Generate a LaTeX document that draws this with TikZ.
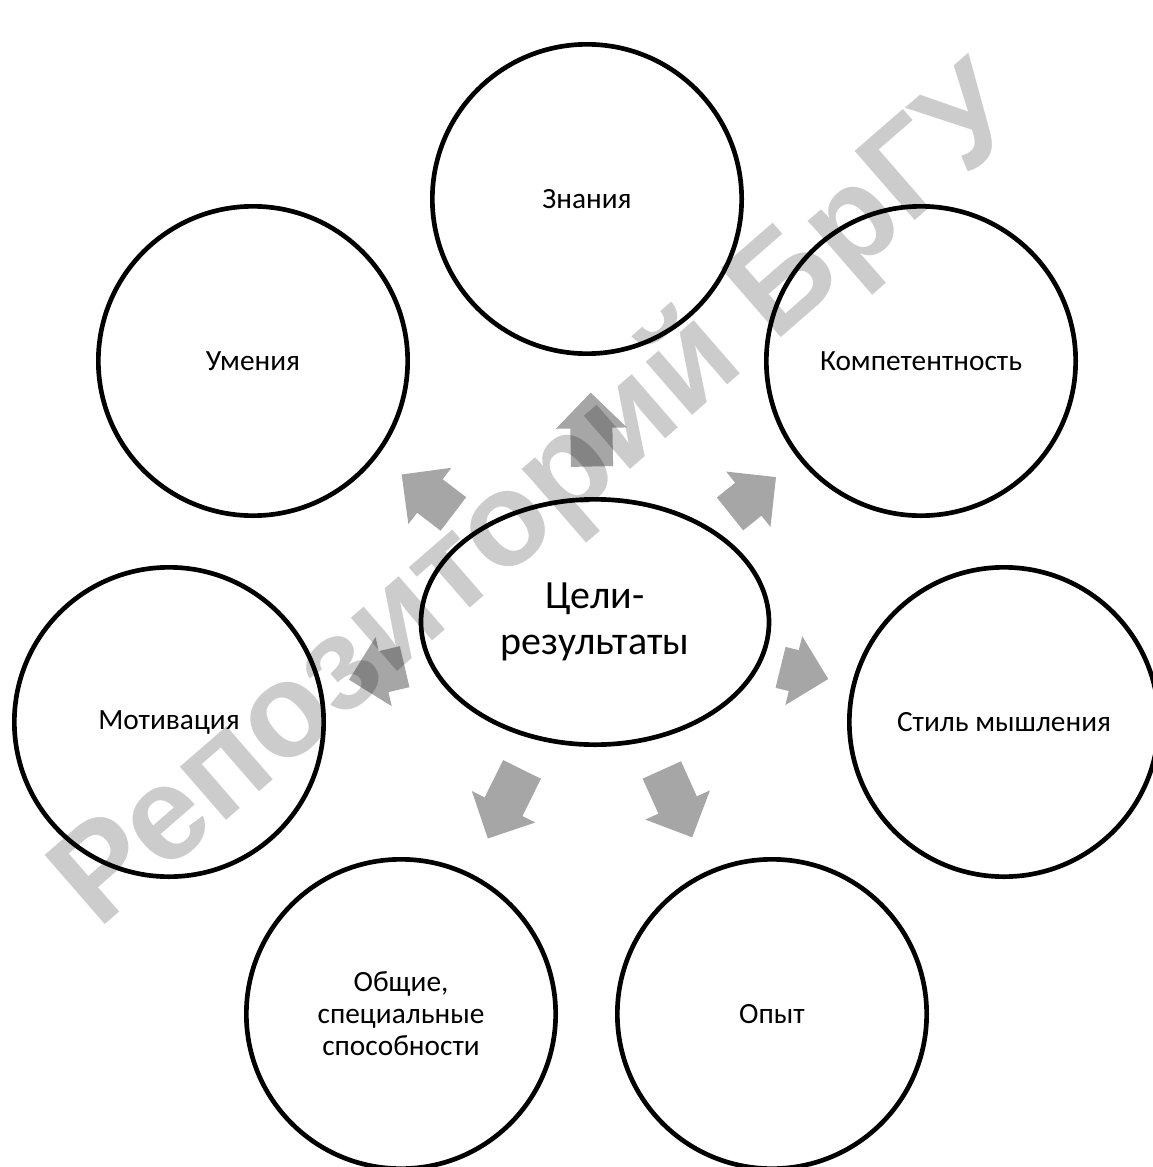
\documentclass[tikz,border=0pt]{standalone}
\usepackage{fontspec}
\setmainfont{Carlito}
\newfontfamily\wmfont{Liberation Sans}
\usepackage{tikz}
\usetikzlibrary{shapes.geometric,shapes.arrows}
\tikzstyle{ring} = [circle, draw, line width=1.75pt, minimum size=116pt, inner sep=0pt, align=center, font=\fontsize{11}{12}\selectfont]
\tikzstyle{goal} = [ellipse, draw, line width=1.75pt, minimum width=130.5pt, minimum height=92pt, inner sep=0pt, align=center, font=\fontsize{15}{17}\selectfont]
\tikzstyle{fatarrow} = [single arrow, fill=arrowgray, draw=none, minimum width=26pt, single arrow head extend=5.4pt, inner xsep=0pt, inner ysep=7.7pt, anchor=tip, sloped, allow upside down]
\tikzstyle{stamp} = [rotate=41, opacity=0.2, text opacity=0.2, font=\wmfont\bfseries\fontsize{50}{50}\selectfont]
\definecolor{arrowgray}{HTML}{A6A6A6}

\begin{document}
\begin{tikzpicture}[x=0.375pt, y=-0.375pt]
  \useasboundingbox (0,0) rectangle (1152,1167);
  \node (goal) at (595,622) [goal] {Цели-\\результаты};
  \node (znan) at (587,199) [ring] {Знания};
  \node (umen) at (253,361) [ring] {Умения};
  \node (komp) at (921,361) [ring] {Компетентность};
  \node (motiv) at (169,722) [ring] {Мотивация};
  \node (stil) at (1004,722) [ring] {Стиль мышления};
  \node (sposob) at (401,1014) [ring] {Общие,\\специальные\\способности};
  \node (opyt) at (772,1014) [ring] {Опыт};

  \path (goal.center) -- (znan.center) node [pos=.544, fatarrow, minimum height=27.7pt] (a1) {};
  \path (goal.center) -- (umen.center) node [pos=.567, fatarrow, minimum height=24.4pt] (a2) {};
  \path (goal.center) -- (komp.center) node [pos=.557, fatarrow, minimum height=22.1pt] (a3) {};
  \path (goal.center) -- (motiv.center) node [pos=.579, fatarrow, minimum height=21.4pt] (a4) {};
  \path (goal.center) -- (stil.center) node [pos=.572, fatarrow, minimum height=18.4pt] (a5) {};
  \path (goal.center) -- (sposob.center) node [pos=.554, fatarrow, minimum height=28.9pt] (a6) {};
  \path (goal.center) -- (opyt.center) node [pos=.551, fatarrow, minimum height=27.7pt] (a7) {};

  \node (wm) at (540,500) [stamp] {Репозиторий БрГУ};
\end{tikzpicture}
\end{document}
